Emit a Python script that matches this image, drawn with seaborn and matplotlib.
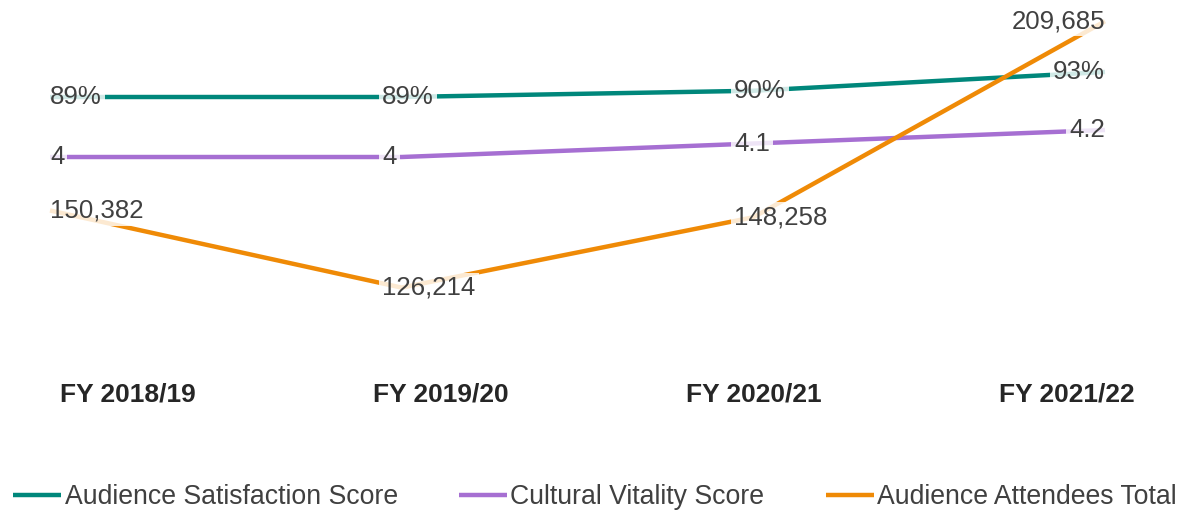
import matplotlib
matplotlib.use("Agg")
import matplotlib.pyplot as plt
import pandas as pd
import seaborn as sns

# ---- data ----
years = ["FY 2018/19", "FY 2019/20", "FY 2020/21", "FY 2021/22"]
satisfaction = [89, 89, 90, 93]            # %
vitality = [4.0, 4.0, 4.1, 4.2]
attendees = [150382, 126214, 148258, 209685]
series_names = ["Audience Satisfaction Score", "Cultural Vitality Score", "Audience Attendees Total"]
colors = ["#00877B", "#A66FD2", "#EF8A06"]

sns.set_theme(style="white")
plt.rcParams["font.family"] = ["Liberation Sans", "DejaVu Sans"]

df = pd.DataFrame({"idx": range(len(years)), "year": years,
                   "sat": satisfaction, "vit": vitality, "att": attendees})

fig = plt.figure(figsize=(11.77, 5.15), dpi=100)
ax_s = fig.add_axes([50 / 1177, 1 - 310 / 515, 1055 / 1177, 300 / 515])
ax_v = ax_s.twinx()
ax_a = ax_s.twinx()
ax_x = ax_s.twiny()

lw = 3.2
sns.lineplot(data=df, x="idx", y="sat", ax=ax_s, color=colors[0], linewidth=lw, legend=False)
sns.lineplot(data=df, x="idx", y="vit", ax=ax_v, color=colors[1], linewidth=lw, legend=False)
sns.lineplot(data=df, x="idx", y="att", ax=ax_a, color=colors[2], linewidth=lw, legend=False)

# independent scales for each series
ax_s.set_ylim(54.92, 102.92)
ax_v.set_ylim(2.8667, 5.0889)
ax_a.set_ylim(119200, 213200)
for ax in (ax_s, ax_v, ax_a):
    ax.set_xlim(0, len(years) - 1)
    for ln in ax.get_lines():
        ln.set_clip_on(False)
        ln.set_solid_capstyle("butt")
    ax.set_yticks([])
    ax.set_xticks([])
    ax.set_xlabel("")
    ax.set_ylabel("")
    for sp in ax.spines.values():
        sp.set_visible(False)
    ax.patch.set_visible(False)

# data labels (drawn on the top-most axes)
fmt = [lambda v: f"{v:g}%", lambda v: f"{v:g}", lambda v: f"{v:,}"]
n = len(years)
for ax, col, f in zip((ax_s, ax_v, ax_a), ("sat", "vit", "att"), fmt):
    for i, v in enumerate(df[col]):
        if i == 0:
            ha, dx = "left", 0
        elif i == n - 1:
            ha, dx = "right", 0
        else:
            ha, dx = "left", -14
        ax_x.annotate(f(v), xy=(i, v), xycoords=ax.transData,
                      xytext=(dx, 0), textcoords="offset points",
                      ha=ha, va="center", fontsize=18.6, color="#404040",
                      bbox=dict(boxstyle="square,pad=0.12", fc="white", ec="none", alpha=0.82),
                      annotation_clip=False, zorder=10)

# category labels
ax_x.set_xlim(-0.2492, 3.1214)
ax_x.xaxis.set_ticks_position("bottom")
ax_x.set_xticks(range(n))
ax_x.set_xticklabels(years, fontsize=19, fontweight="bold", color="#262626")
ax_x.tick_params(axis="x", length=0, pad=52)
for sp in ax_x.spines.values():
    sp.set_visible(False)
ax_x.patch.set_visible(False)

handles = [ax_s.get_lines()[0], ax_v.get_lines()[0], ax_a.get_lines()[0]]
fig.legend(handles, series_names, loc="center", bbox_to_anchor=(595 / 1177, 1 - 497 / 515),
           ncol=3, frameon=False, fontsize=19.2, handlelength=1.8, handletextpad=0.12,
           columnspacing=2.3, labelcolor="#404040")

fig.savefig("out.png", dpi=100)
